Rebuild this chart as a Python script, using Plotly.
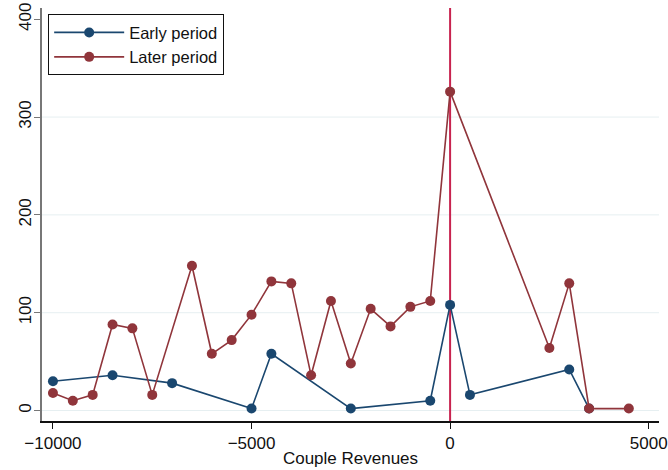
import plotly.graph_objects as go

early_x = [-10000, -8500, -7000, -5000, -4500, -2500, -500, 0, 500, 3000, 3500]
early_y = [30, 36, 28, 2, 58, 2, 10, 108, 16, 42, 2]

later_x = [-10000, -9500, -9000, -8500, -8000, -7500, -6500, -6000, -5500, -5000,
           -4500, -4000, -3500, -3000, -2500, -2000, -1500, -1000, -500, 0,
           2500, 3000, 3500, 4500]
later_y = [18, 10, 16, 88, 84, 16, 148, 58, 72, 98,
           132, 130, 36, 112, 48, 104, 86, 106, 112, 326,
           64, 130, 2, 2]

x_ticks = [-10000, -5000, 0, 5000]
y_ticks = [0, 100, 200, 300, 400]
grid_vals = [0, 100, 200, 300]
vline_x = 0

NAVY = "#1a476f"
MAROON = "#90353b"
FONT = "Liberation Sans, Arial, sans-serif"

fig = go.Figure()
fig.add_trace(go.Scatter(
    x=early_x, y=early_y, mode="lines+markers", name="Early period",
    line=dict(color=NAVY, width=1.6),
    marker=dict(color=NAVY, size=10),
))
fig.add_trace(go.Scatter(
    x=later_x, y=later_y, mode="lines+markers", name="Later period",
    line=dict(color=MAROON, width=1.6),
    marker=dict(color=MAROON, size=10),
))

shapes = []
for g in grid_vals:
    shapes.append(dict(type="line", xref="paper", x0=0, x1=1, yref="y", y0=g, y1=g,
                       line=dict(color="#e6eff1", width=1), layer="below"))
shapes.append(dict(type="line", xref="x", x0=vline_x, x1=vline_x, yref="paper", y0=0, y1=1,
                   line=dict(color="#c8234f", width=2), layer="below"))

fig.update_layout(
    width=668, height=470,
    margin=dict(l=42, r=9, t=8, b=49, autoexpand=False),
    paper_bgcolor="white", plot_bgcolor="white",
    font=dict(family=FONT, size=15, color="#111"),
    shapes=shapes,
    showlegend=True,
    legend=dict(
        x=0.01, y=0.985, xanchor="left", yanchor="top",
        bgcolor="white", bordercolor="#111", borderwidth=1,
        font=dict(size=16.5, family=FONT, color="#111"),
        itemwidth=70,
        entrywidth=104, entrywidthmode="pixels",
        tracegroupgap=0,
    ),
    xaxis=dict(
        range=[-10276, 5260], tickvals=x_ticks,
        ticktext=["\u221210000", "\u22125000", "0", "5000"],
        showgrid=False, zeroline=False, automargin=False,
        showline=True, linecolor="#111", linewidth=1.5,
        ticks="outside", ticklen=6, tickcolor="#111", tickwidth=1,
        tickfont=dict(size=17),
        title=dict(text="Couple Revenues", font=dict(size=17), standoff=0),
    ),
    yaxis=dict(
        range=[-10.7, 411.5], tickvals=y_ticks,
        showgrid=False, zeroline=False, automargin=False,
        showline=True, linecolor="#777", linewidth=2,
        ticks="outside", ticklen=6, tickcolor="#777", tickwidth=1,
        tickangle=-90, tickfont=dict(size=17),
        ticklabelstandoff=-4,
    ),
)

fig.write_html("out.html", config={"displayModeBar": False},
               post_script="document.body.style.margin='0';document.body.style.overflow='hidden';")
